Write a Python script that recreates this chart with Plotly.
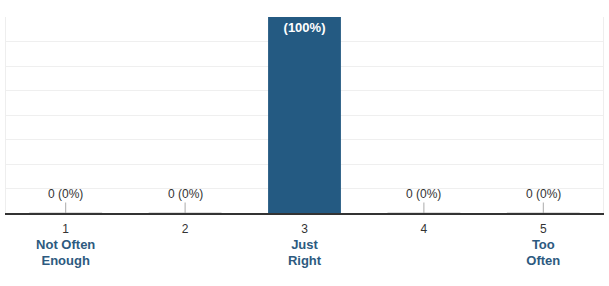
import plotly.graph_objects as go

categories = ["1", "2", "3", "4", "5"]
descriptions = ["Not Often<br>Enough", "", "Just<br>Right", "", "Too<br>Often"]
counts = [0, 0, 1, 0, 0]
percents = [0, 0, 100, 0, 0]

bar_color = "#245a82"
label_blue = "#2d5a80"
bar_width = 0.61

x_idx = list(range(len(categories)))

ticktext = []
for c, d in zip(categories, descriptions):
    t = f"<span style='color:#333333'>{c}</span>"
    if d:
        t += f"<br><b><span style='color:{label_blue};font-size:13px'>{d}</span></b>"
    ticktext.append(t)

inside_text = [f"<b>({p}%)</b>" if v > 0 else "" for v, p in zip(counts, percents)]

fig = go.Figure()
fig.add_trace(go.Bar(
    x=x_idx, y=counts, width=bar_width,
    marker=dict(color=bar_color, line=dict(width=0)),
    text=inside_text, textposition="inside", insidetextanchor="end",
    textfont=dict(color="white", size=13, family="Liberation Sans, Arial"),
    hoverinfo="skip", showlegend=False,
))

annotations = []
shapes = []
for i, (v, p) in enumerate(zip(counts, percents)):
    if v == 0:
        annotations.append(dict(
            x=i, y=0, xref="x", yref="y", text=f"{v} ({p}%)",
            showarrow=True, arrowhead=0, arrowwidth=1, arrowcolor="#aaaaaa",
            ax=0, ay=-19, standoff=0,
            font=dict(size=12, color="#333333", family="Liberation Sans, Arial"),
        ))
        shapes.append(dict(
            type="line", xref="x", yref="y",
            x0=i - bar_width / 2, x1=i + bar_width / 2, y0=0, y1=0,
            line=dict(color="#dddddd", width=2), layer="below",
        ))

fig.update_layout(
    width=609, height=286,
    margin=dict(l=6, r=6, t=17, b=73),
    paper_bgcolor="white", plot_bgcolor="white",
    font=dict(family="Liberation Sans, Arial", size=12, color="#333333"),
    annotations=annotations, shapes=shapes,
    bargap=0.39,
    xaxis=dict(
        tickmode="array", tickvals=x_idx, ticktext=ticktext,
        range=[-0.5, len(categories) - 0.5],
        showline=True, linecolor="#333333", linewidth=2,
        showgrid=False, ticks="", zeroline=False,
        tickfont=dict(size=12), ticklabelstandoff=4,
    ),
    yaxis=dict(
        range=[0, 1], dtick=0.125, showticklabels=False,
        showgrid=True, gridcolor="#efefef", gridwidth=1,
        zeroline=False, showline=True, mirror=True, linecolor="#eeeeee", linewidth=1,
        ticks="",
    ),
)

fig.write_html("out.html")
